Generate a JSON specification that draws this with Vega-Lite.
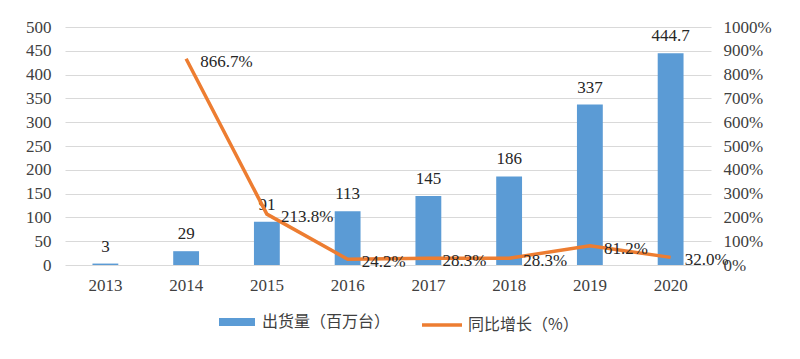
{
  "$schema": "https://vega.github.io/schema/vega-lite/v6.json",
  "width": 646,
  "height": 238,
  "autosize": {"type": "none"},
  "padding": {"left": 65, "top": 27, "right": 89, "bottom": 94},
  "background": "white",
  "config": {
    "view": {"stroke": null},
    "font": "Liberation Serif",
    "axis": {"labelFont": "Liberation Serif", "labelFontSize": 17, "labelColor": "#404040", "ticks": false, "domain": false, "title": null, "labelOverlap": false}
  },
  "data": {
    "values": [
      {"year": "2013", "shipment": 3, "growth": null},
      {"year": "2014", "shipment": 29, "growth": 8.667},
      {"year": "2015", "shipment": 91, "growth": 2.138},
      {"year": "2016", "shipment": 113, "growth": 0.242},
      {"year": "2017", "shipment": 145, "growth": 0.283},
      {"year": "2018", "shipment": 186, "growth": 0.283},
      {"year": "2019", "shipment": 337, "growth": 0.812},
      {"year": "2020", "shipment": 444.7, "growth": 0.32}
    ]
  },
  "encoding": {
    "x": {
      "field": "year", "type": "ordinal",
      "scale": {"paddingInner": 0.68, "paddingOuter": 0.34},
      "axis": {"labelAngle": 0, "labelPadding": 12, "grid": false, "labelFont": "Liberation Serif", "labelFontSize": 17, "labelColor": "#404040"}
    }
  },
  "layer": [
    {
      "encoding": {
        "y": {"field": "shipment", "type": "quantitative", "scale": {"domain": [0, 500], "nice": false},
          "axis": {"tickCount": 10, "grid": true, "gridColor": "#D9D9D9", "labelPadding": 14, "labelOverlap": false, "labelFont": "Liberation Serif", "labelFontSize": 17, "labelColor": "#404040"}}
      },
      "layer": [
        {
          "mark": {"type": "bar", "color": "#5B9BD5"},
          "encoding": {
            "fill": {"datum": "出货量（百万台）", "type": "nominal",
              "scale": {"domain": ["出货量（百万台）"], "range": ["#5B9BD5"]},
              "legend": {"orient": "none", "legendX": 153, "legendY": 276, "title": null,
                "symbolType": "M-1,-0.22H1V0.22H-1Z", "symbolSize": 1296, "labelFont": "Noto Sans CJK SC", "labelFontSize": 16, "labelColor": "#404040", "labelOffset": 6}}
          }
        },
        {
          "mark": {"type": "text", "baseline": "bottom", "dy": -8, "fontSize": 17, "font": "Liberation Serif", "color": "#262626"},
          "encoding": {
            "text": {"field": "shipment", "type": "quantitative"}
          }
        }
      ]
    },
    {
      "transform": [{"filter": "datum.growth != null"}],
      "encoding": {
        "y": {"field": "growth", "type": "quantitative", "scale": {"domain": [0, 10], "nice": false},
          "axis": {"orient": "right", "format": ".0%", "tickCount": 10, "grid": false, "labelPadding": 12, "labelOverlap": false, "labelFont": "Liberation Serif", "labelFontSize": 17, "labelColor": "#404040"}}
      },
      "layer": [
        {
          "mark": {"type": "line", "strokeWidth": 3.5, "color": "#ED7D31"},
          "encoding": {
            "stroke": {"datum": "同比增长（%）", "type": "nominal",
              "scale": {"domain": ["同比增长（%）"], "range": ["#ED7D31"]},
              "legend": {"orient": "none", "legendX": 355, "legendY": 276, "title": null,
                "symbolType": "stroke", "symbolSize": 1600, "symbolStrokeWidth": 3.5, "labelFont": "Noto Sans CJK SC", "labelFontSize": 16, "labelColor": "#404040", "labelOffset": 4}}
          }
        },
        {
          "mark": {"type": "text", "align": "left", "baseline": "middle", "dx": 14, "dy": 3, "fontSize": 17, "font": "Liberation Serif", "color": "#262626"},
          "encoding": {
            "text": {"field": "growth", "type": "quantitative", "format": ".1%"}
          }
        }
      ]
    }
  ],
  "resolve": {"scale": {"y": "independent", "fill": "independent", "stroke": "independent"}, "legend": {"fill": "independent", "stroke": "independent"}}
}
